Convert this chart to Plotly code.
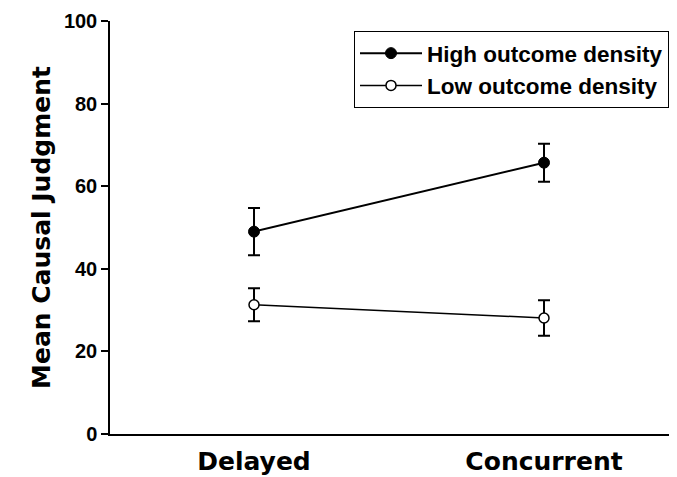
import plotly.graph_objects as go

categories = ["Delayed", "Concurrent"]
x_pos = [0, 1]
high_values = [49.0, 65.7]
high_err = [5.7, 4.6]
low_values = [31.3, 28.1]
low_err = [4.0, 4.3]
y_ticks = [0, 20, 40, 60, 80, 100]

fig = go.Figure()
fig.add_trace(go.Scatter(
    x=x_pos, y=high_values, mode="lines+markers", name="High outcome density",
    line=dict(color="black", width=2),
    marker=dict(symbol="circle", size=11, color="black", line=dict(color="black", width=1)),
    error_y=dict(type="data", array=high_err, visible=True, color="black", thickness=2, width=6),
))
fig.add_trace(go.Scatter(
    x=x_pos, y=low_values, mode="lines+markers", name="Low outcome density",
    line=dict(color="black", width=1.5),
    marker=dict(symbol="circle", size=10, color="white", line=dict(color="black", width=1.5)),
    error_y=dict(type="data", array=low_err, visible=True, color="black", thickness=2, width=6),
))

# page body has an 8px margin, so the figure is drawn 8px smaller
fig.update_layout(
    width=669, height=469,
    margin=dict(l=102, r=0, t=13, b=43, autoexpand=False),
    paper_bgcolor="white", plot_bgcolor="white",
    showlegend=True,
    legend=dict(
        x=(354 - 110) / 567, y=1 - (31 - 21) / 413,
        xanchor="left", yanchor="top",
        bordercolor="black", borderwidth=1, bgcolor="white",
        font=dict(family="Liberation Sans", size=22.5, color="black", weight="bold"),
        itemwidth=62, tracegroupgap=2,
    ),
    xaxis=dict(
        range=[-0.4966, 1.4586], tickvals=x_pos, ticktext=categories, tickangle=0,
        showline=True, linecolor="black", linewidth=1.5, ticks="",
        showgrid=False, zeroline=False, ticklabelstandoff=4,
        tickfont=dict(family="DejaVu Sans", size=25, color="black", weight="bold"),
    ),
    yaxis=dict(
        range=[0, 100], tickvals=y_ticks,
        showline=True, linecolor="black", linewidth=1.5,
        ticks="outside", ticklen=7, tickwidth=1.5, tickcolor="black",
        showgrid=False, zeroline=False,
        tickfont=dict(family="Liberation Sans", size=20, color="black", weight="bold"),
        title=dict(text="Mean Causal Judgment", standoff=6,
                   font=dict(family="DejaVu Sans", size=25, color="black", weight="bold")),
    ),
)

fig.write_html("out.html")
